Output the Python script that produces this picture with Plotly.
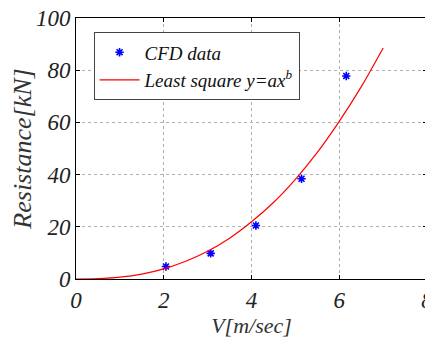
import plotly.graph_objects as go

# CFD data points
v_cfd = [2.05, 3.07, 4.10, 5.14, 6.16]
r_cfd = [4.8, 9.8, 20.5, 38.4, 77.8]

# Least square fit curve y=ax^b
v_fit = [0, 0.5, 1, 1.5, 2, 2.5, 3, 3.5, 4, 4.5, 5, 5.5, 6, 6.5, 7]
r_fit = [0, 0.12, 0.69, 1.9, 3.9, 6.8, 10.6, 15.6, 21.9, 29.3, 38.2, 48.5, 60.4, 73.6, 88.5]

x_ticks = [0, 2, 4, 6, 8]
y_ticks = [0, 20, 40, 60, 80, 100]

FONT = "Liberation Serif"

fig = go.Figure()
fig.add_trace(go.Scatter(
    x=v_cfd, y=r_cfd, mode="markers", name="CFD data",
    marker=dict(symbol="asterisk-open", size=7, color="blue",
                line=dict(color="blue", width=1.6)),
))
fig.add_trace(go.Scatter(
    x=v_fit, y=r_fit, mode="lines", name="Least square y=ax<sup>b</sup>",
    line=dict(color="red", width=1.2, shape="spline"),
))

axis_common = dict(
    showline=True, linecolor="black", linewidth=1, mirror="ticks",
    ticks="inside", ticklen=4, tickcolor="black",
    showgrid=True, gridcolor="#b0b0b0", griddash="dot", gridwidth=1,
    zeroline=False, automargin=False, ticklabeloverflow="allow",
    tickfont=dict(family=FONT, size=23, color="#222", style="italic"),
)

# The page body has an 8px margin, so the figure is 8px smaller and offset.
fig.update_layout(
    width=425, height=335,
    margin=dict(l=67.5, r=5.5, t=9.5, b=63.5),
    paper_bgcolor="white", plot_bgcolor="white",
    font=dict(family=FONT, style="italic"),
    showlegend=True,
    legend=dict(
        x=0.05, y=0.945, xanchor="left", yanchor="top",
        bgcolor="white", bordercolor="#444", borderwidth=1,
        font=dict(family=FONT, size=19, color="#111", style="italic"),
        tracegroupgap=0, itemwidth=40,
    ),
    xaxis=dict(
        range=[0, 8], tickvals=x_ticks,
        title=dict(text="V[m/sec]", standoff=6,
                   font=dict(family=FONT, size=22, color="#333", style="italic")),
        **axis_common,
    ),
    yaxis=dict(
        range=[0, 100], tickvals=y_ticks,
        title=dict(text="Resistance[kN]", standoff=12,
                   font=dict(family=FONT, size=26, color="#333", style="italic")),
        **axis_common,
    ),
)

fig.write_html("out.html")
